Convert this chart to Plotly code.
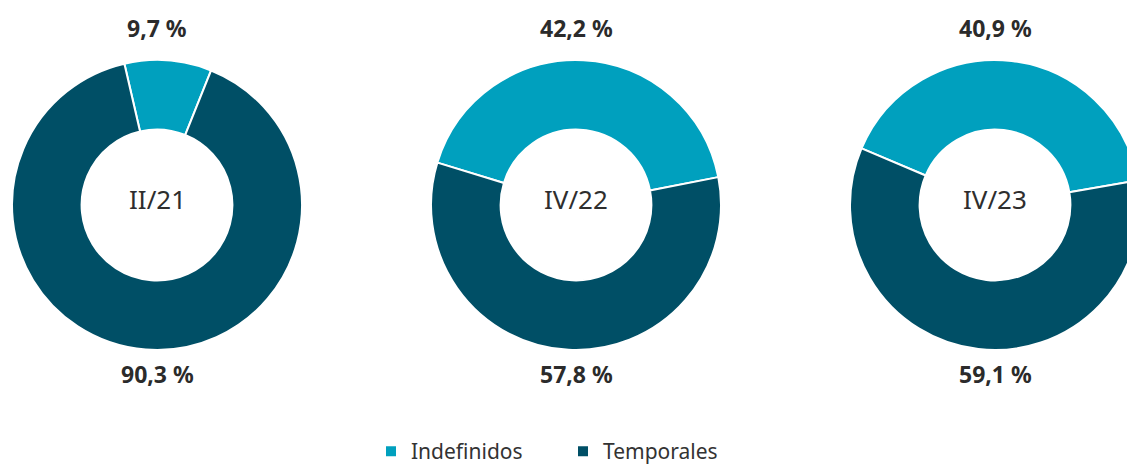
import plotly.graph_objects as go

periods = ["II/21", "IV/22", "IV/23"]
categories = ["Indefinidos", "Temporales"]
indefinidos = [9.7, 42.2, 40.9]
temporales = [90.3, 57.8, 59.1]
colors = ["#00A0BE", "#004F66"]

W, H = 1140, 465
centers_x = [157, 576, 995]
center_y = 205
R = 145
rotations = [-13, -73, -67]

def fmt(v):
    return f"{v:.1f}".replace(".", ",") + " %"

fig = go.Figure()
annotations = []
for i, p in enumerate(periods):
    cx = centers_x[i]
    x0, x1 = (cx - R) / W, (cx + R) / W
    y0, y1 = (H - center_y - R) / H, (H - center_y + R) / H
    fig.add_trace(go.Pie(
        labels=categories,
        values=[indefinidos[i], temporales[i]],
        hole=0.52,
        sort=False,
        direction="clockwise",
        rotation=rotations[i],
        marker=dict(colors=colors, line=dict(color="white", width=2)),
        textinfo="none",
        hoverinfo="label+percent",
        domain=dict(x=[x0, x1], y=[y0, y1]),
        showlegend=(i == 0),
    ))
    common = dict(xref="paper", yref="paper", showarrow=False,
                  xanchor="center", yanchor="middle")
    annotations.append(dict(x=cx / W, y=(H - 199) / H, text=p,
                            font=dict(family="Noto Sans", size=26, color="#2e2e2e"), **common))
    annotations.append(dict(x=cx / W, y=(H - 28) / H, text=f"<b>{fmt(indefinidos[i])}</b>",
                            font=dict(family="Noto Sans", size=23, color="#2b2b2b"), **common))
    annotations.append(dict(x=cx / W, y=(H - 374) / H, text=f"<b>{fmt(temporales[i])}</b>",
                            font=dict(family="Noto Sans", size=23, color="#2b2b2b"), **common))

fig.update_layout(
    width=W, height=H,
    autosize=False,
    margin=dict(l=0, r=0, t=0, b=0, pad=0, autoexpand=False),
    paper_bgcolor="white",
    plot_bgcolor="white",
    annotations=annotations,
    legend=dict(orientation="h", x=563 / W, xanchor="center", y=-7 / H, yanchor="bottom",
                font=dict(family="Noto Sans", size=21, color="#333333"),
                entrywidth=147, itemwidth=30),
)

fig.write_html(
    "out.html",
    config={"displayModeBar": False},
    post_script="document.body.style.margin='0';document.body.style.overflow='hidden';"
                "document.documentElement.style.overflow='hidden';",
)
